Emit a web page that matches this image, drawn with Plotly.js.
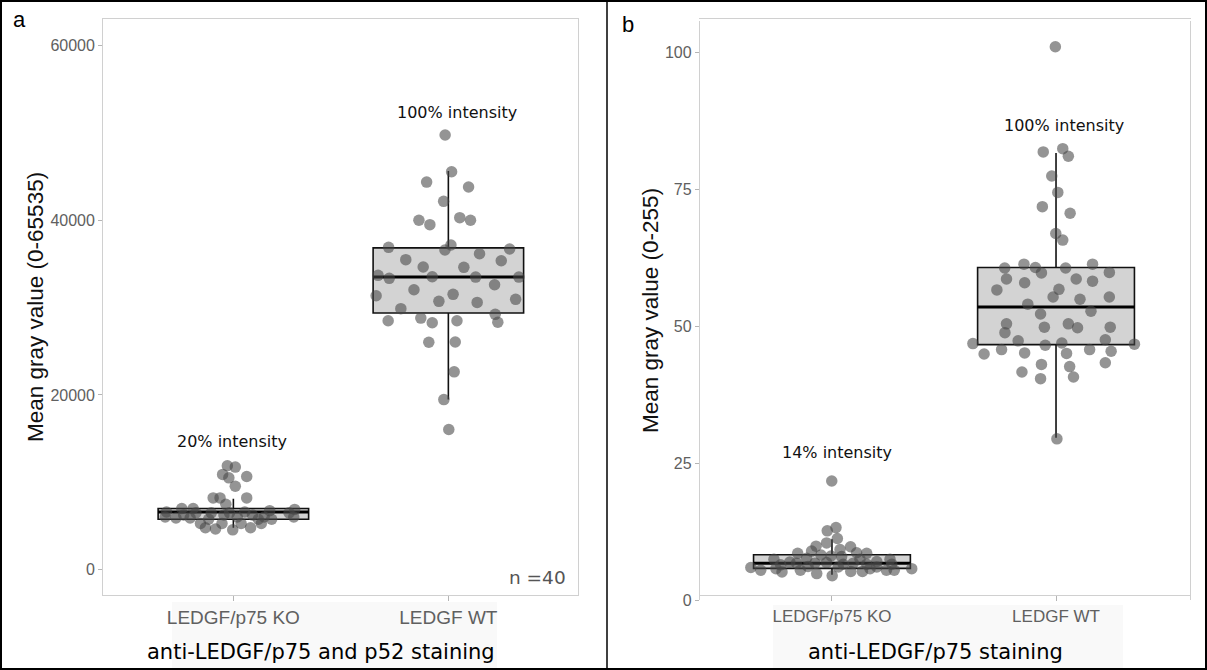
<!DOCTYPE html>
<html>
<head>
<meta charset="utf-8">
<script src="https://cdn.plot.ly/plotly-3.0.1.min.js"></script>
<style>html,body{margin:0;padding:0;background:#fff;}#chart{width:1207px;height:670px;}</style>
</head>
<body>
<div id="chart"></div>
<script>
// ---------- DATA ----------
const categories = ["LEDGF/p75 KO", "LEDGF WT"];

// Panel a: anti-LEDGF/p75 and p52 staining (0-65535)
const aKoValues = [11890,11740,10900,10510,10660,9540,8210,8210,8210,6600,6020,7000,5910,6500,5280,4790,6500,4650,5280,6250,6500,4550,5280,6600,4790,5280,6020,6750,6890,6020,6250,6020,6250,5770,5770,7480,6500,5910,5770,7000];
const aKoJitter = [-0.028,0.009,-0.050,-0.021,0.062,0.009,-0.094,-0.062,0.062,-0.311,-0.317,-0.240,-0.201,-0.174,-0.153,-0.130,-0.103,-0.083,-0.053,-0.044,-0.018,-0.003,0.036,0.053,0.080,0.130,0.143,0.169,0.285,0.281,-0.231,0.018,0.089,-0.115,0.116,-0.035,0.259,-0.267,0.178,-0.187];
const aWtValues = [49770,45560,44380,43810,42170,40000,39500,40300,40000,36900,37170,36600,36170,36710,35490,35370,34650,34610,33700,33350,33540,33500,33500,32620,32050,31360,31520,30950,30720,30600,29880,29230,28500,28800,28270,28500,28320,26030,26060,22650,19470,16040];
const aWtJitter = [-0.015,0.015,-0.101,0.094,-0.022,-0.137,-0.086,0.053,0.103,-0.278,0.012,-0.016,0.145,0.285,-0.198,0.246,-0.117,0.072,-0.327,-0.275,-0.075,0.127,0.328,0.215,-0.160,-0.336,0.022,0.313,-0.044,0.134,-0.221,0.218,-0.280,-0.128,-0.075,0.040,0.230,-0.091,0.032,0.027,-0.021,0.002];
// box statistics [KO, WT]
const aQ1 = [5770, 29380];
const aMedian = [6600, 33520];
const aQ3 = [7000, 36840];
const aLower = [4790, 19470];
const aUpper = [8120, 45640];

// Panel b: anti-LEDGF/p75 staining (0-255)
const bKoValues = [21.8,13.3,12.7,11.3,10.5,9.9,9.8,9.3,9.0,8.6,8.7,8.6,8.3,8.1,8.0,7.5,7.7,7.5,7.1,7.5,6.5,6.8,6.8,6.9,6.6,6.8,6.6,6.6,6.0,5.5,5.8,5.2,5.5,4.9,4.5,5.3,5.3,6.1,5.5,5.5,5.8,6.1,6.2,5.8,7.0];
const bKoJitter = [-0.001,0.018,-0.021,0.024,-0.024,-0.071,0.083,0.036,-0.091,-0.153,0.110,0.155,-0.049,-0.004,0.043,-0.259,-0.113,0.125,0.200,0.259,-0.229,-0.158,-0.076,-0.024,0.050,0.095,0.155,0.267,-0.362,-0.318,-0.250,-0.223,-0.141,-0.068,0.001,0.084,0.136,0.200,0.243,0.278,0.356,0.028,-0.107,0.170,-0.188];
const bWtValues = [101.1,81.9,82.5,81.1,77.5,74.5,71.9,70.7,67.0,65.8,60.7,61.4,60.8,59.8,60.7,61.4,59.9,58.7,58.0,58.7,58.3,56.7,56.8,55.4,55.0,55.4,54.1,52.8,52.3,50.5,50.5,49.9,49.8,49.9,48.9,47.4,47.6,46.9,46.8,46.6,47.0,45.0,45.8,45.2,45.1,45.8,45.5,43.1,43.4,41.7,42.7,40.5,40.8,29.5];
const bWtJitter = [-0.003,-0.057,0.030,0.055,-0.019,0.008,-0.061,0.063,-0.001,0.030,-0.229,-0.143,-0.092,-0.065,0.043,0.163,0.238,-0.221,-0.140,0.090,0.163,-0.264,0.013,-0.013,0.107,0.238,-0.126,0.156,-0.069,-0.221,0.055,-0.052,0.096,0.242,-0.228,-0.169,0.220,-0.371,0.350,-0.048,0.026,-0.321,-0.243,-0.140,0.047,0.150,0.246,-0.065,0.220,-0.152,0.061,-0.069,0.078,0.004];
const bQ1 = [5.84, 46.7];
const bMedian = [6.79, 53.6];
const bQ3 = [8.34, 60.8];
const bLower = [4.67, 29.7];
const bUpper = [11.15, 81.7];

const aTicks = [0, 20000, 40000, 60000];
const bTicks = [0, 25, 50, 75, 100];

// ---------- STYLE ----------
const BOXW = 0.7;
const boxFill = "#d3d3d3";
const ptColor = "rgba(70,70,70,0.58)";
const tickFont = {family: "Liberation Sans, Arial, sans-serif", size: 16, color: "#606060"};

function boxTrace(xa, ya, q1, med, q3, lo, hi) {
  return {
    type: "box", xaxis: xa, yaxis: ya,
    x: [0, 1], q1: q1, median: med, q3: q3, lowerfence: lo, upperfence: hi,
    width: BOXW, whiskerwidth: 0, boxpoints: false,
    fillcolor: boxFill, line: {color: "#111111", width: 1.6},
    hoverinfo: "skip", showlegend: false
  };
}
function medianTrace(xa, ya, med) {
  const xs = [], ys = [];
  med.forEach((m, i) => { xs.push(i - BOXW / 2, i + BOXW / 2, null); ys.push(m, m, null); });
  return {type: "scatter", mode: "lines", xaxis: xa, yaxis: ya, x: xs, y: ys,
          line: {color: "#000", width: 3}, hoverinfo: "skip", showlegend: false};
}
function pointsTrace(xa, ya, idx, vals, jit) {
  return {type: "scatter", mode: "markers", xaxis: xa, yaxis: ya,
          x: vals.map((v, i) => idx + jit[i]), y: vals,
          marker: {size: 11.5, color: ptColor, line: {width: 0}},
          hoverinfo: "skip", showlegend: false};
}

const traces = [
  boxTrace("x", "y", aQ1, aMedian, aQ3, aLower, aUpper),
  medianTrace("x", "y", aMedian),
  pointsTrace("x", "y", 0, aKoValues, aKoJitter),
  pointsTrace("x", "y", 1, aWtValues, aWtJitter),
  boxTrace("x2", "y2", bQ1, bMedian, bQ3, bLower, bUpper),
  medianTrace("x2", "y2", bMedian),
  pointsTrace("x2", "y2", 0, bKoValues, bKoJitter),
  pointsTrace("x2", "y2", 1, bWtValues, bWtJitter)
];

const W = 1207, H = 670;
const px = v => v / W, py = v => 1 - v / H;

function xAxis(domain, range, size) {
  return {domain: domain, range: range, tickvals: [0, 1], ticktext: categories,
          showgrid: false, zeroline: false, showline: true, mirror: true,
          linecolor: "#d0d0d0", linewidth: 1.2, ticks: "outside", ticklen: 5, tickcolor: "#b5b5b5",
          tickfont: {family: "Liberation Sans, Arial, sans-serif", size: size, color: "#606060"}};
}
function yAxis(domain, range, ticks, anchor) {
  return {domain: domain, range: range, tickvals: ticks, tickformat: "d", anchor: anchor,
          showgrid: false, zeroline: false, showline: true, mirror: true,
          linecolor: "#d0d0d0", linewidth: 1.2, ticks: "outside", ticklen: 4, tickcolor: "#b5b5b5",
          tickfont: tickFont};
}

const annFont = {family: "DejaVu Sans, Verdana, sans-serif", size: 16, color: "#111"};
function pAnn(text, x, y, font, extra) {
  return Object.assign({text: text, xref: "paper", yref: "paper", x: px(x), y: py(y),
    xanchor: "center", yanchor: "middle", showarrow: false, font: font}, extra || {});
}
function dAnn(text, xa, ya, x, y, font) {
  return {text: text, xref: xa, yref: ya, x: x, y: y, xanchor: "center", yanchor: "middle",
          showarrow: false, font: font};
}
const letterFont = {family: "Liberation Sans, Arial, sans-serif", size: 22, color: "#000"};
const yTitleFont = {family: "Liberation Sans, Arial, sans-serif", size: 22.5, color: "#111"};
const xTitleFont = {family: "DejaVu Sans, Verdana, sans-serif", size: 21, color: "#000"};

const layout = {
  width: W, height: H, margin: {l: 0, r: 0, t: 0, b: 0},
  paper_bgcolor: "#fff", plot_bgcolor: "#fff", showlegend: false,
  xaxis: xAxis([px(103.3), px(578)], [-0.605, 1.603], 19),
  yaxis: yAxis([py(595), py(19.2)], [-2910, 63030], aTicks, "x"),
  xaxis2: xAxis([px(700), px(1190)], [-0.589, 1.598], 17),
  yaxis2: yAxis([py(600.4), py(20.5)], [0, 105.9], bTicks, "x2"),
  shapes: [
    {type: "rect", xref: "paper", yref: "paper", x0: px(172), x1: px(497), y0: 0, y1: py(602),
     fillcolor: "#f9f9f9", line: {width: 0}, layer: "below"},
    {type: "rect", xref: "paper", yref: "paper", x0: px(773), x1: px(1123), y0: 0, y1: py(605),
     fillcolor: "#f9f9f9", line: {width: 0}, layer: "below"},
    {type: "rect", xref: "paper", yref: "paper", x0: px(1), x1: px(1206), y0: py(669), y1: py(1),
     line: {color: "#000", width: 2}, fillcolor: "rgba(0,0,0,0)"},
    {type: "line", xref: "paper", yref: "paper", x0: px(607), x1: px(607), y0: 0, y1: 1,
     line: {color: "#000", width: 1.5}}
  ],
  annotations: [
    pAnn("a", 19, 20, letterFont),
    pAnn("b", 628, 24, letterFont),
    pAnn("Mean gray value (0-65535)", 35, 307, yTitleFont, {textangle: -90}),
    pAnn("Mean gray value (0-255)", 650, 311, yTitleFont, {textangle: -90}),
    pAnn("anti-LEDGF/p75 and p52 staining", 321, 652, xTitleFont),
    pAnn("anti-LEDGF/p75 staining", 935, 652, xTitleFont),
    dAnn("100% intensity", "x", "y", 1.042, 52290, annFont),
    dAnn("20% intensity", "x", "y", -0.008, 14650, annFont),
    dAnn("n =40", "x", "y", 1.413, -850, {family: "DejaVu Sans, Verdana, sans-serif", size: 18.5, color: "#555"}),
    dAnn("100% intensity", "x2", "y2", 1.036, 86.8, annFont),
    dAnn("14% intensity", "x2", "y2", 0.024, 27.0, annFont)
  ]
};

Plotly.newPlot("chart", traces, layout, {staticPlot: true, displayModeBar: false});
</script>
</body>
</html>
